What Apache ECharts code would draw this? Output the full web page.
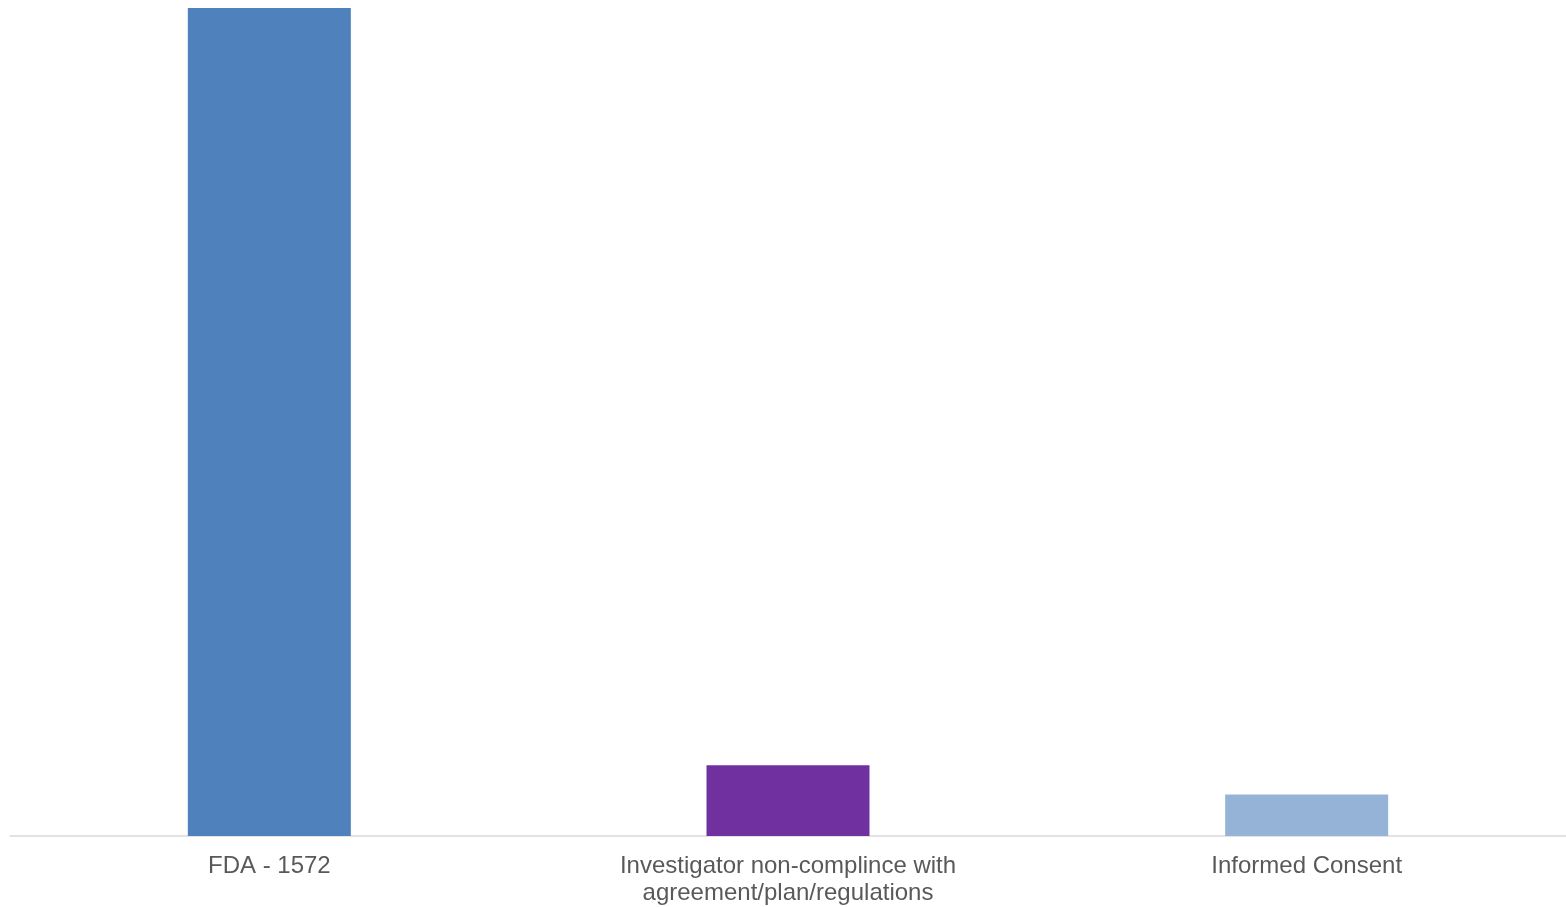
<!DOCTYPE html>
<html>
<head>
<meta charset="utf-8">
<script src="https://cdn.jsdelivr.net/npm/echarts@6/dist/echarts.min.js"></script>
<style>
html,body{margin:0;padding:0;background:#fff;}
#chart{width:1566px;height:907px;}
</style>
</head>
<body>
<div id="chart"></div>
<script>
const categories = ['FDA - 1572', 'Investigator non-complince with\nagreement/plan/regulations', 'Informed Consent'];
const values = [82, 7, 4.1];
const barColors = ['#4f81bd', '#7030a0', '#95b3d7'];

const chart = echarts.init(document.getElementById('chart'), null, {renderer: 'canvas'});
chart.setOption({
  animation: false,
  backgroundColor: '#ffffff',
  grid: {left: 10, right: -2, top: 8, bottom: 71, containLabel: false},
  xAxis: {
    type: 'category',
    data: categories,
    axisLine: {show: true, lineStyle: {color: '#d9d9d9', width: 1.5}},
    axisTick: {show: false},
    axisLabel: {
      color: '#595959',
      fontFamily: 'Liberation Sans, Arial, sans-serif',
      fontSize: 24,
      lineHeight: 27,
      margin: 17,
      interval: 0
    }
  },
  yAxis: {
    type: 'value',
    min: 0,
    max: values[0],
    show: false,
    splitLine: {show: false}
  },
  series: [{
    type: 'bar',
    barWidth: 163,
    data: values.map((v, i) => ({value: v, itemStyle: {color: barColors[i]}}))
  }]
});
</script>
</body>
</html>
